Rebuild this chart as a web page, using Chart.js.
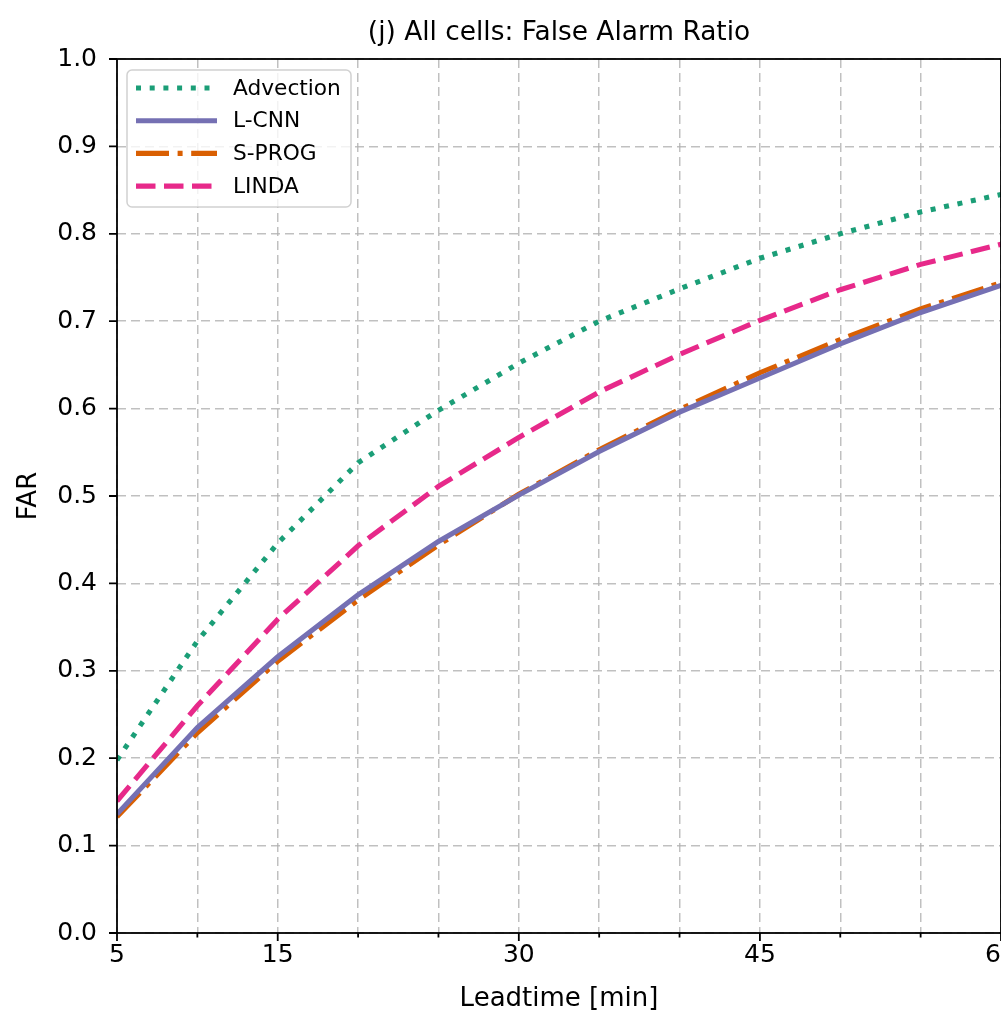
<!DOCTYPE html>
<html>
<head>
<meta charset="utf-8">
<script src="https://cdn.jsdelivr.net/npm/chart.js@4.4.1/dist/chart.umd.min.js"></script>
<style>
  html, body { margin: 0; padding: 0; background: #fff; overflow: hidden; }
  #wrap { position: relative; width: 1101px; height: 1017px; }
</style>
</head>
<body>
<div id="wrap"><canvas id="farChart"></canvas></div>
<script>
// ---- data ----
const leadtimes = [5, 10, 15, 20, 25, 30, 35, 40, 45, 50, 55, 60];
const advection = [0.198, 0.334, 0.446, 0.538, 0.598, 0.652, 0.700, 0.737, 0.772, 0.800, 0.825, 0.845];
const lcnn      = [0.136, 0.235, 0.316, 0.387, 0.448, 0.501, 0.551, 0.596, 0.635, 0.674, 0.710, 0.741];
const sprog     = [0.133, 0.229, 0.311, 0.381, 0.444, 0.502, 0.553, 0.599, 0.641, 0.679, 0.714, 0.744];
const linda     = [0.151, 0.260, 0.359, 0.443, 0.511, 0.567, 0.619, 0.662, 0.701, 0.736, 0.765, 0.788];
const xGridTicks  = [5, 10, 15, 20, 25, 30, 35, 40, 45, 50, 55, 60];
const xLabelTicks = [5, 15, 30, 45, 60];
const titleText = '(j) All cells: False Alarm Ratio';

const FONT = "'DejaVu Sans', 'Liberation Sans', sans-serif";

function pts(vals) {
    return leadtimes.map((t, i) => ({ x: t, y: vals[i] }));
}

// title over the axes, spines, tick marks and the in-axes legend, matplotlib style
const framePlugin = {
    id: 'frame',
    afterDraw(chart) {
        const ctx = chart.ctx;
        const a = chart.chartArea;
        const xs = chart.scales.x, ys = chart.scales.y;
        ctx.save();

        // title centred on the axes
        ctx.fillStyle = '#000';
        ctx.font = '26.4px ' + FONT;
        ctx.textAlign = 'center';
        ctx.textBaseline = 'middle';
        ctx.fillText(titleText, (a.left + a.right) / 2, 33.5);

        ctx.strokeStyle = '#000';
        ctx.lineWidth = 1.8;
        ctx.setLineDash([]);
        // tick marks
        ctx.beginPath();
        xs.ticks.forEach(t => {
            const px = xs.getPixelForValue(t.value);
            const len = xLabelTicks.includes(t.value) ? 8 : 4.5;
            ctx.moveTo(px, a.bottom);
            ctx.lineTo(px, a.bottom + len);
        });
        ys.ticks.forEach(t => {
            const py = ys.getPixelForValue(t.value);
            ctx.moveTo(a.left, py);
            ctx.lineTo(a.left - 8, py);
        });
        ctx.stroke();
        // spines
        ctx.strokeRect(a.left, a.top, a.right - a.left, a.bottom - a.top);

        // legend
        const bx = 127, by = 70, bw = 224, bh = 137, r = 5;
        ctx.beginPath();
        ctx.moveTo(bx + r, by);
        ctx.arcTo(bx + bw, by, bx + bw, by + bh, r);
        ctx.arcTo(bx + bw, by + bh, bx, by + bh, r);
        ctx.arcTo(bx, by + bh, bx, by, r);
        ctx.arcTo(bx, by, bx + bw, by, r);
        ctx.closePath();
        ctx.fillStyle = 'rgba(255,255,255,0.8)';
        ctx.fill();
        ctx.strokeStyle = 'rgba(204,204,204,0.9)';
        ctx.lineWidth = 1.5;
        ctx.stroke();

        ctx.font = '21.7px ' + FONT;
        ctx.textBaseline = 'middle';
        ctx.textAlign = 'left';
        chart.data.datasets.forEach((ds, i) => {
            const y = 88 + i * 32.7;
            ctx.beginPath();
            ctx.strokeStyle = ds.borderColor;
            ctx.lineWidth = ds.borderWidth;
            ctx.lineCap = 'butt';
            ctx.setLineDash(ds.borderDash || []);
            ctx.moveTo(136, y);
            ctx.lineTo(217, y);
            ctx.stroke();
            ctx.setLineDash([]);
            ctx.fillStyle = '#000';
            ctx.fillText(ds.label, 233, y + 1);
        });
        ctx.restore();
    }
};

const lineW = 5.1;

new Chart(document.getElementById('farChart'), {
    type: 'line',
    data: {
        datasets: [
            { label: 'Advection', data: pts(advection), borderColor: '#1b9e77', borderWidth: lineW, borderDash: [5, 8.7] },
            { label: 'L-CNN',     data: pts(lcnn),      borderColor: '#7570b3', borderWidth: lineW, borderDash: [] },
            { label: 'S-PROG',    data: pts(sprog),     borderColor: '#d95f02', borderWidth: lineW, borderDash: [33, 8.6, 5, 8.6] },
            { label: 'LINDA',     data: pts(linda),     borderColor: '#e7298a', borderWidth: lineW, borderDash: [19.5, 8.5] }
        ]
    },
    options: {
        responsive: true,
        maintainAspectRatio: false,
        devicePixelRatio: 1,
        animation: false,
        layout: { padding: { left: 0, right: 100, top: 59, bottom: 0 } },
        elements: {
            point: { radius: 0, hoverRadius: 0 },
            line: { tension: 0, borderCapStyle: 'butt', fill: false }
        },
        plugins: {
            legend: { display: false },
            tooltip: { enabled: false },
            title: { display: false }
        },
        scales: {
            x: {
                type: 'linear',
                min: 5,
                max: 60,
                afterBuildTicks: (scale) => { scale.ticks = xGridTicks.map(v => ({ value: v })); },
                afterFit: (scale) => { scale.height = 84; },
                ticks: {
                    autoSkip: false,
                    maxRotation: 0,
                    padding: 7,
                    color: '#000',
                    font: { family: FONT, size: 25 },
                    callback: (v) => xLabelTicks.includes(v) ? String(v) : ''
                },
                grid: { color: 'rgba(176,176,176,0.8)', lineWidth: 1.5, drawTicks: false },
                border: { display: false, dash: [9, 5] },
                title: {
                    display: true,
                    text: 'Leadtime [min]',
                    color: '#000',
                    font: { family: FONT, size: 26, lineHeight: 1.2 },
                    padding: { top: 0, bottom: 2 }
                }
            },
            y: {
                min: 0,
                max: 1,
                afterFit: (scale) => { scale.width = 117; },
                ticks: {
                    stepSize: 0.1,
                    padding: 20,
                    color: '#000',
                    font: { family: FONT, size: 25 },
                    callback: (v) => v.toFixed(1)
                },
                grid: { color: 'rgba(176,176,176,0.8)', lineWidth: 1.5, drawTicks: false },
                border: { display: false, dash: [9, 5] },
                title: {
                    display: true,
                    text: 'FAR',
                    color: '#000',
                    font: { family: FONT, size: 26, lineHeight: 1.2 },
                    padding: { top: 14, bottom: 0 }
                }
            }
        }
    },
    plugins: [framePlugin]
});
</script>
</body>
</html>
